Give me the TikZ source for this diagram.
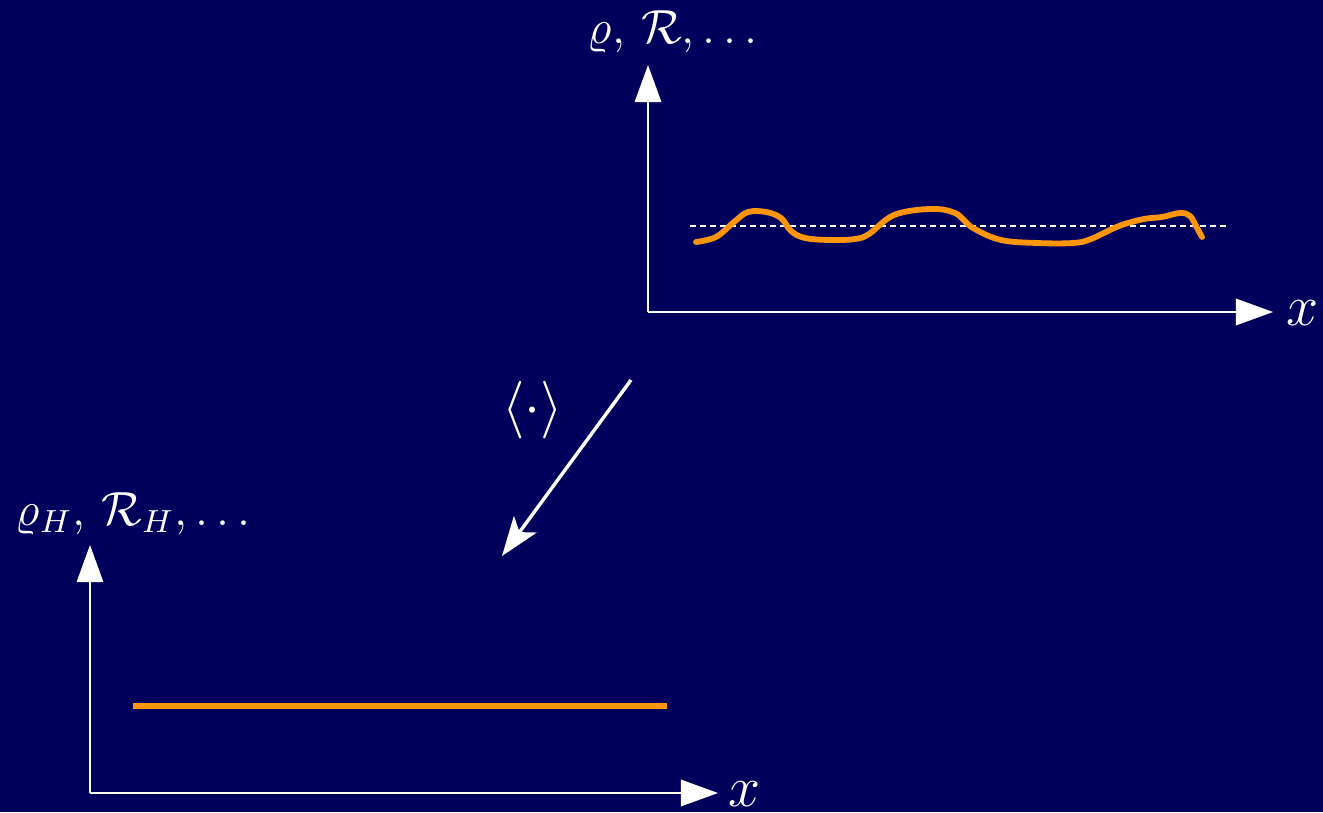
\documentclass[tikz,border=0pt]{standalone}
\usetikzlibrary{arrows.meta}
\definecolor{bgblue}{RGB}{0,0,92}
\definecolor{curveorange}{RGB}{255,150,10}
\begin{document}
\begin{tikzpicture}[x=0.25pt,y=-0.25pt,
  axis/.style={white, line width=0.55pt, -{Triangle[length=9.3pt,width=6.6pt]}},
  maparrow/.style={white, line width=0.85pt, -{Stealth[length=9.8pt,width=7pt,inset=2.4pt]}},
  lbl/.style={text=white, inner sep=0pt, font=\fontsize{11.5}{13}\selectfont},
  xlbl/.style={text=white, inner sep=0pt, font=\fontsize{14.5}{17}\selectfont},
  curve/.style={curveorange, line width=1.45pt, line cap=round, line join=round},
  refline/.style={white, line width=0.5pt, dash pattern=on 1.5pt off 1pt}
]
\fill[bgblue] (0,0) rectangle (1323,812);
\useasboundingbox (0,0) rectangle (1323,812);

% top axes
\coordinate (o1) at (648,312);
\coordinate (y1) at (648,65);
\coordinate (x1) at (1273,312);
\draw[axis] (o1) -- (y1);
\draw[axis] (o1) -- (x1);
\node[lbl, anchor=base west] (lab1) at (587,44) {$\varrho,\,\mathcal{R},\ldots$};
\node[xlbl, anchor=base west] (xl1) at (1286,325) {$x$};

% dotted reference line
\coordinate (d1) at (690,226);
\coordinate (d2) at (1226,226);
\draw[refline] (d1) -- (d2);

% wavy curve
\draw[curve] plot[smooth, tension=0.6] coordinates {
 (696,242) (716,237) (734,222) (748,212) (766,212) (781,218) (791,231)
 (805,238) (830,240) (855,239) (869,234) (894,215) (930,209) (955,213)
 (973,228) (1001,240) (1037,243) (1073,243) (1091,239) (1119,226)
 (1144,219) (1162,217) (1180,213) (1190,216) (1197,228) (1202,237)};

% mapping arrow
\coordinate (a1) at (631,380);
\coordinate (a2) at (502,556);
\draw[maparrow] (a1) -- (a2);
\node[text=white, inner sep=0pt, font=\fontsize{14.5}{17}\selectfont] (avg) at (533,410) {$\langle\cdot\rangle$};

% bottom axes
\coordinate (o2) at (90,793);
\coordinate (y2) at (90,545);
\coordinate (x2) at (718,793);
\draw[axis] (o2) -- (y2);
\draw[axis] (o2) -- (x2);
\node[lbl, anchor=base west] (lab2) at (15,525) {$\varrho_H,\,\mathcal{R}_H,\ldots$};
\node[xlbl, anchor=base west] (xl2) at (728,806) {$x$};

% averaged line
\coordinate (h1) at (133,706);
\coordinate (h2) at (667,706);
\draw[curveorange, line width=1.3pt] (h1) -- (h2);
\end{tikzpicture}
\end{document}
